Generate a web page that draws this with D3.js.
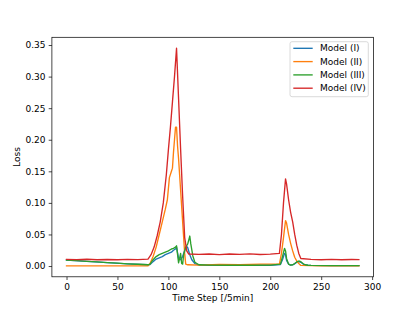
<!DOCTYPE html>
<html>
<head>
<meta charset="utf-8">
<script src="https://cdn.jsdelivr.net/npm/d3@7"></script>
<style>
  body { margin: 0; background: #fff; }
  svg text { font-family: "DejaVu Sans", sans-serif; fill: #000; }
</style>
</head>
<body>
<div id="chart"></div>
<script>
var W = 415, H = 311;
var margin = {left: 51.9, right: 41.5, top: 37.3, bottom: 34.2};

// legend / series names
var names = ['Model (I)', 'Model (II)', 'Model (III)', 'Model (IV)'];
var colors = ['#1f77b4', '#ff7f0e', '#2ca02c', '#d62728'];

var xTicks = [0, 50, 100, 150, 200, 250, 300];
var yTicks = [0.00, 0.05, 0.10, 0.15, 0.20, 0.25, 0.30, 0.35];

// Model (I)
var stepsI = [0,20,40,60,80,82, 85,88,91,94,97,100,103,105,107,108, 110,112,114,116,118,119,121,123,126,130, 140,170,200,210, 212,214,215,216,218,220,222,224,226,228,230,232,234,237,240, 260,287];
var lossI = [0.0095,0.0075,0.0055,0.0035,0.002,0.0025, 0.007,0.011,0.013,0.015,0.018,0.02,0.022,0.025,0.027,0.03, 0.012,0.01,0.015,0.025,0.031,0.029,0.018,0.01,0.004,0.0015, 0.0013,0.0012,0.0013,0.0025, 0.01,0.02,0.018,0.009,0.003,0.0015,0.002,0.0035,0.006,0.007,0.006,0.0035,0.002,0.0012,0.001, 0.0007,0.0006];

// Model (II)
var stepsII = [0,20,40,60,80, 82,85,88,91,94,97,99,101,103,104,105,106,107,108,109, 110,112,114,116,117,119, 130,150,170,190,209, 211,213,215,216,218,220,222,224,226,228,230, 250,270,287];
var lossII = [0.0002,0.0003,0.0002,0.0003,0.0004, 0.004,0.015,0.03,0.05,0.07,0.09,0.105,0.14,0.15,0.155,0.18,0.20,0.22,0.22,0.19, 0.17,0.12,0.07,0.02,0.003,0.002, 0.0015,0.0025,0.002,0.003,0.003, 0.02,0.045,0.072,0.068,0.05,0.036,0.024,0.014,0.008,0.004,0.001, 0.0004,0.0005,0.0004];

// Model (III)
var stepsIII = [0,10,20,30,40,50,60,70,80,82, 85,88,91,94,97,100,103,105,107,108, 110,111,112,113,114,115,117,119,121,122,124,126,130, 140,160,180,200,210, 212,214,215,216,218,220,222,224,226,228,230,232,234,237,240, 260,287];
var lossIII = [0.0095,0.0085,0.0075,0.0065,0.0055,0.0045,0.0035,0.0028,0.002,0.003, 0.01,0.015,0.018,0.02,0.022,0.024,0.027,0.028,0.03,0.032, 0.005,0.012,0.02,0.004,0.003,0.018,0.03,0.035,0.0475,0.035,0.016,0.006,0.002, 0.0015,0.0013,0.0012,0.0014,0.003, 0.015,0.028,0.024,0.012,0.003,0.0015,0.002,0.004,0.0065,0.008,0.007,0.004,0.002,0.0012,0.001, 0.0007,0.0006];

// Model (IV)
var stepsIV = [0,10,20,30,40,50,60,70,80, 83,86,89,92,95,98,100,102,104,106,108, 110,112,114,116,118,120, 130,140,150,160,170,180,190,200,209, 211,213,215,216,218,220,222,224,226,228,230, 240,250,260,270,280,287];
var lossIV = [0.0105,0.0102,0.0108,0.0100,0.0104,0.0099,0.0106,0.0101,0.0110, 0.018,0.03,0.048,0.07,0.10,0.145,0.184,0.22,0.26,0.30,0.345, 0.265,0.185,0.11,0.045,0.024,0.019, 0.0185,0.019,0.0180,0.0190,0.0185,0.0192,0.0183,0.0188,0.020, 0.05,0.10,0.138,0.13,0.105,0.085,0.07,0.05,0.033,0.02,0.012, 0.0105,0.0100,0.0106,0.0099,0.0104,0.0101];

var series = [
  {steps: stepsI, loss: lossI},
  {steps: stepsII, loss: lossII},
  {steps: stepsIII, loss: lossIII},
  {steps: stepsIV, loss: lossIV}
];

// matplotlib-like 5% margins
var xmin = 0, xmax = 287;
var ymin = d3.min(series, function(s) { return d3.min(s.loss); });
var ymax = d3.max(series, function(s) { return d3.max(s.loss); });
var xpad = (xmax - xmin) * 0.05, ypad = (ymax - ymin) * 0.05;

var x = d3.scaleLinear()
  .domain([xmin - xpad, xmax + xpad])
  .range([margin.left, W - margin.right]);
var y = d3.scaleLinear()
  .domain([ymin - ypad, ymax + ypad])
  .range([H - margin.bottom, margin.top]);

var svg = d3.select('#chart')
  .append('svg')
  .attr('width', W)
  .attr('height', H);

var line = d3.line()
  .x(function(d) { return x(d[0]); })
  .y(function(d) { return y(d[1]); });

svg.append('defs').append('clipPath').attr('id', 'clip')
  .append('rect')
  .attr('x', margin.left).attr('y', margin.top)
  .attr('width', W - margin.left - margin.right)
  .attr('height', H - margin.top - margin.bottom);

svg.append('g')
  .attr('clip-path', 'url(#clip)')
  .selectAll('path')
  .data(series)
  .enter()
  .append('path')
  .attr('d', function(s) { return line(d3.zip(s.steps, s.loss)); })
  .attr('fill', 'none')
  .attr('stroke', function(s, i) { return colors[i]; })
  .attr('stroke-width', 1.35)
  .attr('stroke-linejoin', 'round')
  .attr('stroke-linecap', 'square');

// axes
var xAxis = svg.append('g')
  .attr('transform', 'translate(0,' + (H - margin.bottom) + ')')
  .call(d3.axisBottom(x).tickValues(xTicks).tickSize(3.2).tickPadding(3.2).tickFormat(d3.format('d')));
var yAxis = svg.append('g')
  .attr('transform', 'translate(' + margin.left + ',0)')
  .call(d3.axisLeft(y).tickValues(yTicks).tickSize(3.2).tickPadding(3.2).tickFormat(d3.format('.2f')));

[xAxis, yAxis].forEach(function(a) {
  a.select('.domain').remove();
  a.selectAll('line').attr('stroke', '#000').attr('stroke-width', 0.72);
  a.selectAll('text').attr('font-size', 9).attr('font-family', '"DejaVu Sans", sans-serif');
});

// frame
svg.append('rect')
  .attr('x', margin.left).attr('y', margin.top)
  .attr('width', W - margin.left - margin.right)
  .attr('height', H - margin.top - margin.bottom)
  .attr('fill', 'none')
  .attr('stroke', '#000')
  .attr('stroke-width', 0.72);

// labels
svg.append('text')
  .attr('x', (margin.left + W - margin.right) / 2)
  .attr('y', 300.5)
  .attr('text-anchor', 'middle')
  .attr('font-size', 9)
  .text('Time Step [/5min]');

svg.append('text')
  .attr('transform', 'translate(20,157) rotate(-90)')
  .attr('text-anchor', 'middle')
  .attr('font-size', 9)
  .text('Loss');

// legend
var leg = svg.append('g');
leg.append('rect')
  .attr('x', 290).attr('y', 41.7)
  .attr('width', 78.3).attr('height', 55)
  .attr('rx', 2)
  .attr('fill', '#fff').attr('fill-opacity', 0.8)
  .attr('stroke', '#cccccc').attr('stroke-width', 0.72);

var items = leg.selectAll('g.item')
  .data(names)
  .enter()
  .append('g')
  .attr('class', 'item')
  .attr('transform', function(d, i) { return 'translate(0,' + (48.3 + i * 13.3) + ')'; });
items.append('line')
  .attr('x1', 293.3).attr('x2', 312.7)
  .attr('stroke', function(d, i) { return colors[i]; })
  .attr('stroke-width', 1.35);
items.append('text')
  .attr('x', 320)
  .attr('dy', '0.35em')
  .attr('font-size', 9)
  .text(function(d) { return d; });
</script>
</body>
</html>
